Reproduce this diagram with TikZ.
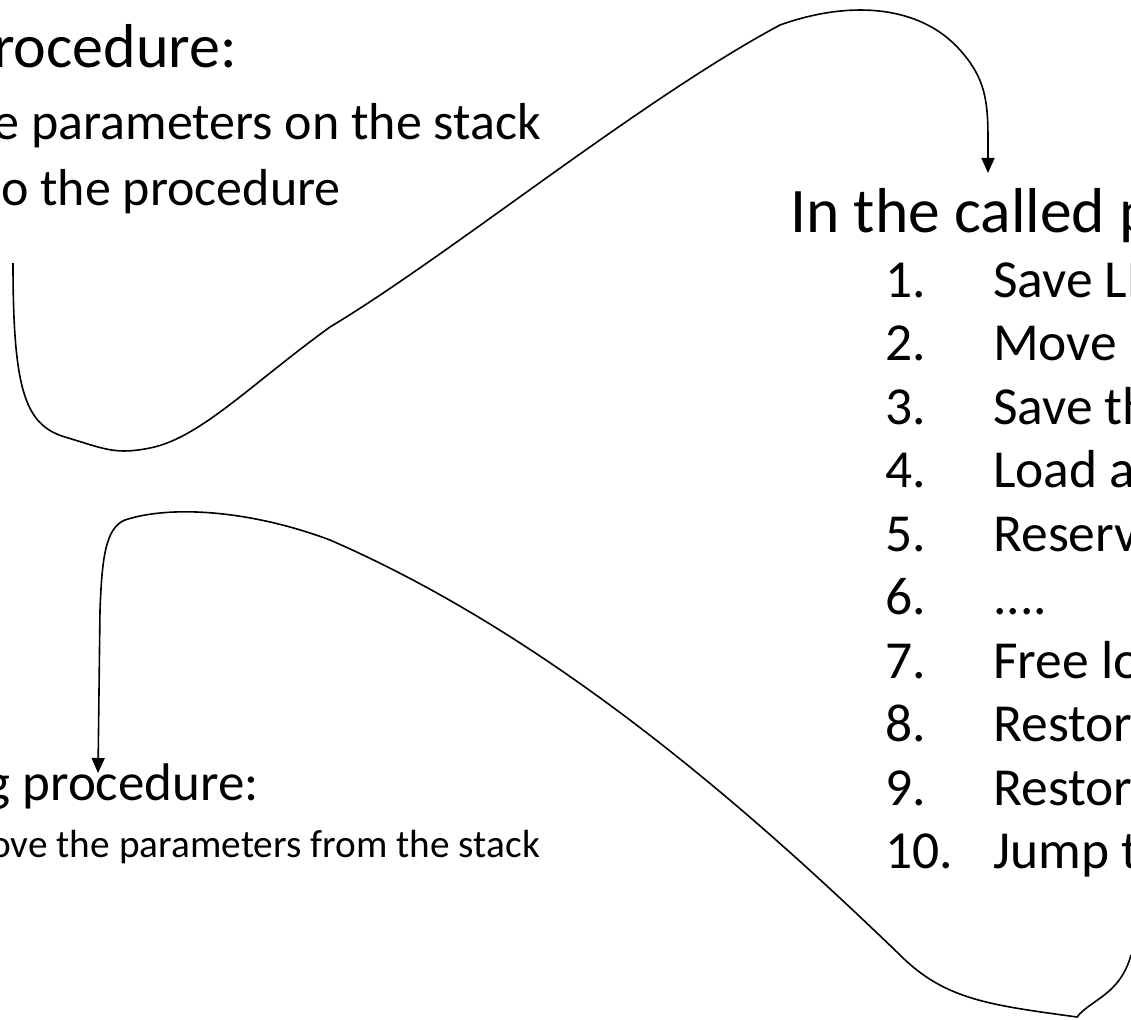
\documentclass[tikz,border=0pt]{standalone}
\usepackage{fontspec}
\setmainfont{Carlito}
\usetikzlibrary{arrows.meta}
\begin{document}
\begin{tikzpicture}[x=1pt,y=-1pt,
  head/.style={inner sep=0pt,font=\fontsize{62}{74}\selectfont},
  item/.style={inner sep=0pt,font=\fontsize{52}{62}\selectfont},
  rhead/.style={inner sep=0pt,font=\fontsize{63.5}{76}\selectfont},
  num/.style={inner sep=0pt,font=\fontsize{53.5}{64}\selectfont,anchor=base west},
  bhead/.style={inner sep=0pt,font=\fontsize{53}{64}\selectfont},
  bitem/.style={inner sep=0pt,font=\fontsize{39.3}{47}\selectfont},
  conn/.style={line width=1.6pt,-{Triangle[length=15pt,width=13pt]}}]
\useasboundingbox (0,0) rectangle (1131,1019);
% top-left text
\node[head,anchor=base east] (h1) at (237,68) {rocedure:};
\node[item,anchor=base east] (l1) at (541,140) {e parameters on the stack};
\node[item,anchor=base east] (l2) at (341,205) {o the procedure};
% right text
\node[rhead,anchor=base west] (h2) at (790,232) {In the called p};
\node[num] (n1) at (885,297) {1.};   \node[num] (t1) at (993,297) {Save LR};
\node[num] (n2) at (885,360.5) {2.}; \node[num] (t2) at (993,360.5) {Move};
\node[num] (n3) at (885,424) {3.};   \node[num] (t3) at (993,424) {Save th};
\node[num] (n4) at (885,487.5) {4.}; \node[num] (t4) at (993,487.5) {Load a};
\node[num] (n5) at (885,551) {5.};   \node[num] (t5) at (993,551) {Reserv};
\node[num] (n6) at (885,614.5) {6.}; \node[num] (t6) at (993,614.5) {....};
\node[num] (n7) at (885,678) {7.};   \node[num] (t7) at (993,678) {Free lo};
\node[num] (n8) at (885,741.5) {8.}; \node[num] (t8) at (993,741.5) {Restor};
\node[num] (n9) at (885,805) {9.};   \node[num] (t9) at (993,805) {Restor};
\node[num] (n10) at (885,868.5) {10.}; \node[num] (t10) at (993,868.5) {Jump t};
% bottom-left text
\node[bhead,anchor=base east] (h3) at (259,800) {g procedure:};
\node[bitem,anchor=base east] (l3) at (540,857) {ove the parameters from the stack};
% connectors
\coordinate (s1) at (13,263);
\coordinate (e1) at (988,173);
\coordinate (s2) at (1131,955);
\coordinate (e2) at (98,773);
\draw[conn] (s1) .. controls (13,390) and (25,425) .. (65,437)
  .. controls (105,449) and (115,455) .. (150,448)
  .. controls (200,438) and (250,385) .. (330,327)
  .. controls (450,255) and (640,100) .. (780,25)
  .. controls (850,0) and (920,5) .. (960,50)
  .. controls (985,78) and (988,100) .. (988,140)
  -- (e1);
\draw[conn] (s2) .. controls (1120,995) and (1090,1000) .. (1077,1017)
  .. controls (990,1005) and (945,1000) .. (900,955)
  .. controls (760,820) and (560,640) .. (330,540)
  .. controls (250,510) and (170,505) .. (125,520)
  .. controls (105,528) and (102,560) .. (100,610)
  -- (e2);
\end{tikzpicture}
\end{document}
